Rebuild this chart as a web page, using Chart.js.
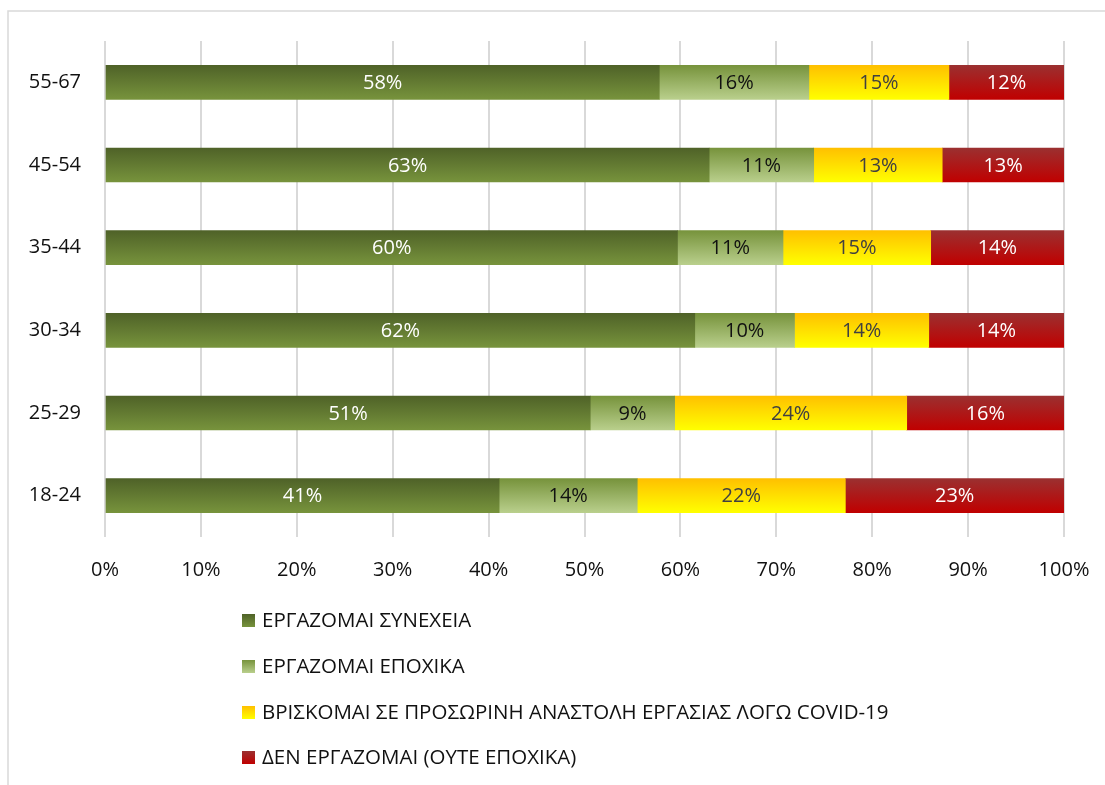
<!DOCTYPE html>
<html>
<head>
<meta charset="utf-8">
<script src="https://cdn.jsdelivr.net/npm/chart.js@4"></script>
<style>
    body { margin: 0; background: #fff; }
    #wrap { width: 1105px; height: 785px; }
</style>
</head>
<body>
<div id="wrap"><canvas id="workChart" width="1105" height="785"></canvas></div>
<script>
var ageGroups = ['55-67', '45-54', '35-44', '30-34', '25-29', '18-24'];

var seriesNames = [
    'ΕΡΓΑΖΟΜΑΙ ΣΥΝΕΧΕΙΑ',
    'ΕΡΓΑΖΟΜΑΙ ΕΠΟΧΙΚΑ',
    'ΒΡΙΣΚΟΜΑΙ ΣΕ ΠΡΟΣΩΡΙΝΗ ΑΝΑΣΤΟΛΗ ΕΡΓΑΣΙΑΣ ΛΟΓΩ COVID-19',
    'ΔΕΝ ΕΡΓΑΖΟΜΑΙ (ΟΥΤΕ ΕΠΟΧΙΚΑ)'
];

var workFull     = [57.8, 63.0, 59.7, 61.5, 50.6, 41.1];
var workSeasonal = [15.6, 10.9, 11.0, 10.4,  8.8, 14.4];
var suspended    = [14.6, 13.4, 15.4, 14.0, 24.2, 21.7];
var notWorking   = [12.0, 12.7, 13.9, 14.1, 16.4, 22.8];

var tickLabels = ['0%', '10%', '20%', '30%', '40%', '50%', '60%', '70%', '80%', '90%', '100%'];

// top and bottom colour of each gradient, plus label colour
var gradTop = ['#4f6228', '#77933c', '#ffc000', '#9b3030'];
var gradBottom = ['#77933c', '#b9cf8c', '#ffff00', '#c00000'];
var labelColors = ['#ffffff', '#111111', '#404040', '#ffffff'];

var FONT = "'Open Sans', sans-serif";
var BAR_H = 34;

function barGradient(index) {
    return function(context) {
        var chart = context.chart;
        var yScale = chart.scales.y;
        if (!yScale || context.dataIndex === undefined) {
            return gradTop[index];
        }
        var mid = yScale.getPixelForValue(context.dataIndex);
        if (!isFinite(mid)) {
            return gradTop[index];
        }
        var g = chart.ctx.createLinearGradient(0, mid - BAR_H / 2, 0, mid + BAR_H / 2);
        g.addColorStop(0, gradTop[index]);
        g.addColorStop(1, gradBottom[index]);
        return g;
    };
}

var frameAndLabels = {
    id: 'frameAndLabels',
    beforeDraw: function(chart) {
        var ctx = chart.ctx;
        ctx.save();
        ctx.strokeStyle = '#d9d9d9';
        ctx.lineWidth = 1.5;
        ctx.strokeRect(8, 11, 1200, 900);
        ctx.restore();
    },
    afterDatasetsDraw: function(chart) {
        var ctx = chart.ctx;
        ctx.save();
        ctx.font = '20px ' + FONT;
        ctx.textAlign = 'center';
        ctx.textBaseline = 'middle';
        chart.data.datasets.forEach(function(ds, di) {
            var meta = chart.getDatasetMeta(di);
            meta.data.forEach(function(bar, i) {
                var left = Math.min(bar.x, bar.base);
                var right = Math.max(bar.x, bar.base);
                ctx.fillStyle = labelColors[di];
                ctx.fillText(Math.round(ds.data[i]) + '%', (left + right) / 2, bar.y + 1);
            });
        });

        // legend, one item per row under the axis
        var legendX = 242;
        var legendY = [620, 666, 712, 757];
        ctx.textAlign = 'left';
        ctx.font = '20.5px ' + FONT;
        seriesNames.forEach(function(name, i) {
            var y = legendY[i];
            var g = ctx.createLinearGradient(0, y - 6, 0, y + 7);
            g.addColorStop(0, gradTop[i]);
            g.addColorStop(1, gradBottom[i]);
            ctx.fillStyle = g;
            ctx.fillRect(legendX, y - 6, 13, 13);
            ctx.fillStyle = '#111111';
            ctx.fillText(name, legendX + 20, y + 1);
        });
        ctx.restore();
    }
};

var seriesData = [workFull, workSeasonal, suspended, notWorking];

new Chart(document.getElementById('workChart').getContext('2d'), {
    type: 'bar',
    data: {
        labels: ageGroups,
        datasets: seriesData.map(function(values, i) {
            return {
                label: seriesNames[i],
                data: values,
                backgroundColor: barGradient(i),
                barThickness: BAR_H,
                borderWidth: 0
            };
        })
    },
    options: {
        indexAxis: 'y',
        responsive: false,
        animation: false,
        layout: {
            padding: { left: 0, top: 41, right: 41, bottom: 198 }
        },
        plugins: {
            legend: { display: false },
            tooltip: { enabled: false }
        },
        scales: {
            x: {
                stacked: true,
                min: 0,
                max: 100,
                afterFit: function(scale) {
                    scale.height = 50;
                    scale.paddingRight = 0;
                },
                grid: { color: '#d9d9d9', lineWidth: 2, drawTicks: false },
                border: { display: false },
                ticks: {
                    stepSize: 10,
                    padding: 21,
                    color: '#111111',
                    font: { family: FONT, size: 20 },
                    callback: function(value) { return tickLabels[value / 10]; }
                }
            },
            y: {
                stacked: true,
                afterFit: function(scale) { scale.width = 105; },
                grid: { display: false },
                border: { display: false },
                ticks: {
                    padding: 16,
                    color: '#111111',
                    font: { family: FONT, size: 20 }
                }
            }
        }
    },
    plugins: [frameAndLabels]
});
</script>
</body>
</html>
